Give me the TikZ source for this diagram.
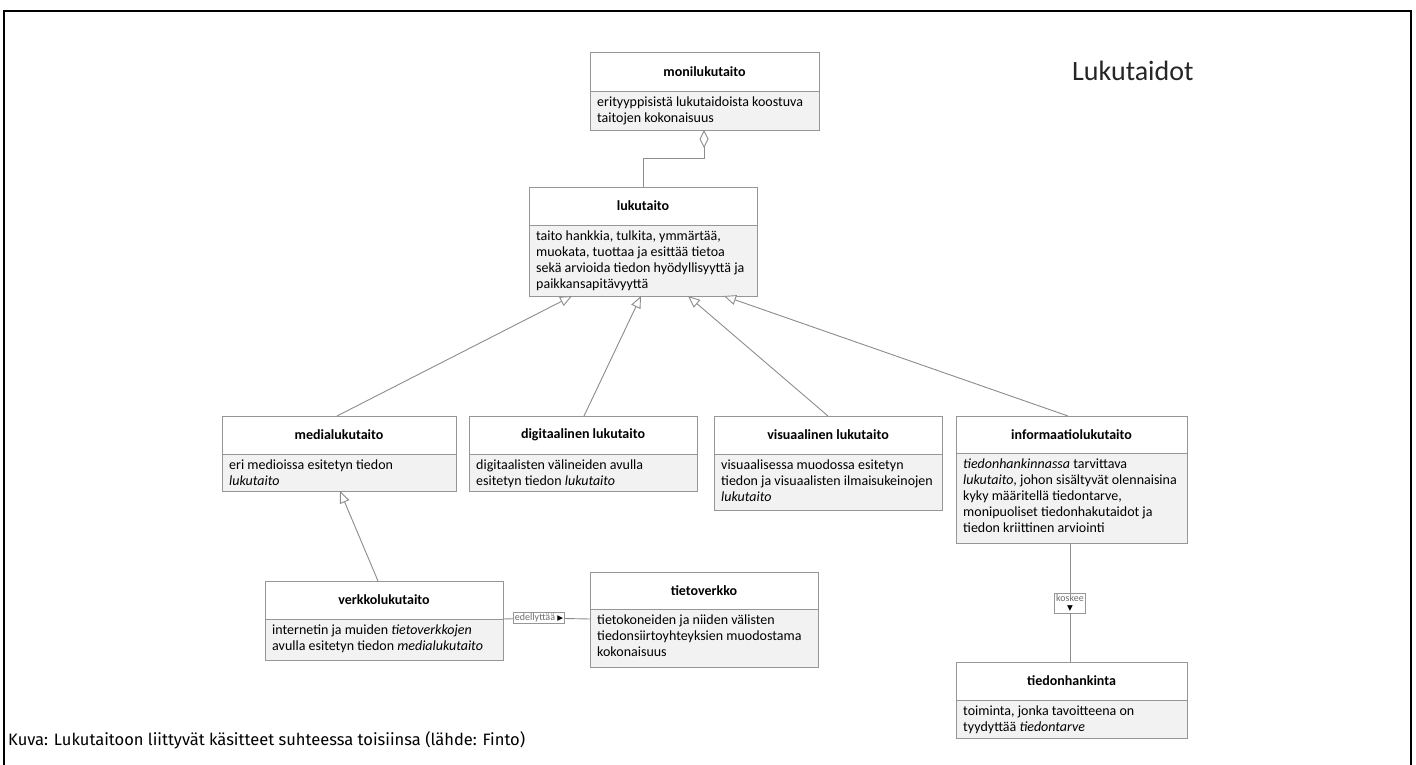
\documentclass[tikz,border=0pt]{standalone}
\usepackage{fontspec}
\setmainfont{Carlito}
\newfontfamily\capfont{Fira Sans}
\newfontfamily\symfont{DejaVu Sans}
\usetikzlibrary{arrows.meta,calc}
\definecolor{bord}{RGB}{150,150,150}
\definecolor{bodyfill}{RGB}{242,242,242}
\definecolor{conncol}{RGB}{140,140,140}
\definecolor{lbltext}{RGB}{110,110,110}
\tikzset{
  hdr/.style={draw=bord, line width=0.9pt, fill=white, anchor=north west, inner sep=0pt, outer sep=0pt,
    font=\fontsize{14}{16}\selectfont\bfseries},
  bdy/.style={draw=bord, line width=0.9pt, fill=bodyfill, anchor=north west, inner sep=0pt, outer sep=0pt},
  btxt/.style={anchor=north west, inner sep=0pt, align=left, font=\fontsize{14}{16}\selectfont},
  conn/.style={draw=conncol, line width=0.9pt},
  gen/.style={conn, -{Triangle[open, length=12pt, width=10pt, fill=white]}},
  agg/.style={conn, {Diamond[open, length=18pt, width=9pt, fill=white]}-},
  lbl/.style={draw=bord, line width=0.6pt, fill=white, inner sep=1.5pt, text=lbltext,
    font=\fontsize{10}{11}\selectfont},
}
\newcommand\umlclass[8]{%
  \node[hdr, minimum width=#4pt, minimum height=#5pt] (#1) at (#2,#3) {#7};
  \node[bdy, minimum width=#4pt, minimum height=#6pt] (#1b) at (#1.south west) {};
  \node[btxt] (#1t) at ([shift={(7pt,-6pt)}]#1b.north west) {#8};
}
\begin{document}
\begin{tikzpicture}[x=1pt,y=-1pt]
\useasboundingbox (0,0) rectangle (1416,765);
\fill[white] (0,0) rectangle (1416,765);
\draw[line width=2.6pt] (4,11) rectangle (1411,780);

\node[anchor=base west, font=\fontsize{28}{30}\selectfont, text=black!85, inner sep=0pt] (title) at (1072,81) {Lukutaidot};

\umlclass{moni}{590}{52}{229}{39}{39}{monilukutaito}{erityyppisistä lukutaidoista koostuva\\taitojen kokonaisuus}
\umlclass{luk}{529}{187}{228}{38}{71}{lukutaito}{taito hankkia, tulkita, ymmärtää,\\muokata, tuottaa ja esittää tietoa\\sekä arvioida tiedon hyödyllisyyttä ja\\paikkansapitävyyttä}
\umlclass{media}{222}{416}{234}{38}{37}{medialukutaito}{eri medioissa esitetyn tiedon\\\textit{lukutaito}}
\umlclass{digi}{469}{416}{228}{38}{37}{digitaalinen lukutaito}{digitaalisten välineiden avulla\\esitetyn tiedon \textit{lukutaito}}
\umlclass{visu}{714}{416}{228}{38}{56}{visuaalinen lukutaito}{visuaalisessa muodossa esitetyn\\tiedon ja visuaalisten ilmaisukeinojen\\\textit{lukutaito}}
\umlclass{info}{956}{416}{231}{37}{90}{informaatiolukutaito}{\textit{tiedonhankinnassa} tarvittava\\\textit{lukutaito}, johon sisältyvät olennaisina\\kyky määritellä tiedontarve,\\monipuoliset tiedonhakutaidot ja\\tiedon kriittinen arviointi}
\umlclass{verkko}{265}{581}{238}{38}{41}{verkkolukutaito}{internetin ja muiden \textit{tietoverkkojen}\\avulla esitetyn tiedon \textit{medialukutaito}}
\umlclass{tieto}{590}{572}{228}{37}{58}{tietoverkko}{tietokoneiden ja niiden välisten\\tiedonsiirtoyhteyksien muodostama\\kokonaisuus}
\umlclass{tiedon}{956}{662}{231}{38}{38}{tiedonhankinta}{toiminta, jonka tavoitteena on\\tyydyttää \textit{tiedontarve}}

% aggregation
\draw[agg] ([xshift=114pt]monib.south west) -- ++(0,28) -| ([xshift=114pt]luk.north west);

% generalizations
\draw[gen] ([xshift=115pt]media.north west) -- ([xshift=43pt]lukb.south west);
\draw[gen] ([xshift=115pt]digi.north west) -- ([xshift=112pt]lukb.south west);
\draw[gen] ([xshift=114pt]visu.north west) -- ([xshift=159pt]lukb.south west);
\draw[gen] ([xshift=112pt]info.north west) -- ([xshift=195pt]lukb.south west);
\draw[gen] ([xshift=113pt]verkko.north west) -- ([xshift=118pt]mediab.south west);

% associations
\node[lbl] (edl) at (539,618) {edellyttää {\symfont\fontsize{7.5}{8}\selectfont\textcolor{black}{▶}}};
\draw[conn] (verkko.south east) -- (edl);
\draw[conn] (edl) -- (verkko.south east -| tietob.west);

\node[lbl, align=center, font=\fontsize{10}{10}\selectfont] (kos) at (1070,603) {koskee\\[-1pt]{\symfont\fontsize{7.5}{8}\selectfont\textcolor{black}{▼}}};
\draw[conn] (infob.south -| kos) -- (kos);
\draw[conn] (kos) -- (kos |- tiedon.north);

\node[anchor=base west, inner sep=0pt, font=\capfont\fontsize{16.5}{18}\selectfont] (cap) at (8,745) {Kuva: Lukutaitoon liittyvät käsitteet suhteessa toisiinsa (lähde: Finto)};
\end{tikzpicture}
\end{document}
